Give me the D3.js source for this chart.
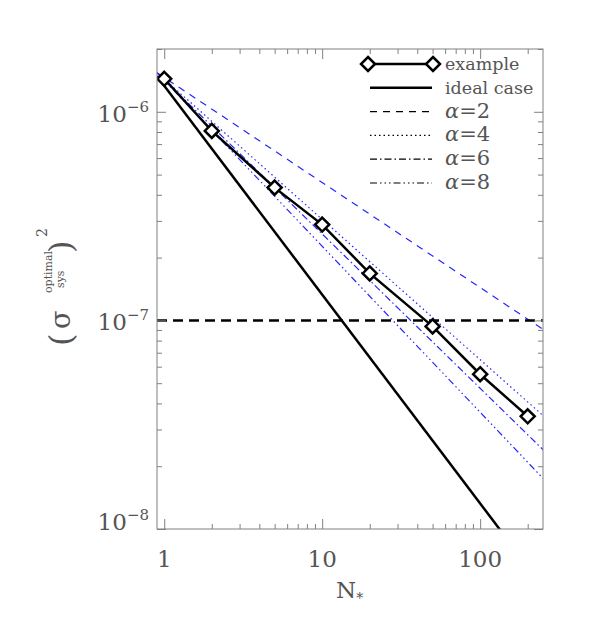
<!DOCTYPE html>
<meta charset="utf-8">
<style>
  body { margin: 0; background: #fff; }
  svg text { font-family: "DejaVu Serif", serif; fill: #555; }
</style>
<body>
<script src="https://d3js.org/d3.v7.min.js"></script>
<script>
// ---- data ----
var nStars = [1, 2, 5, 10, 20, 50, 100, 200];
var example = [1.44e-6, 8.1e-7, 4.33e-7, 2.88e-7, 1.68e-7, 9.36e-8, 5.52e-8, 3.47e-8];

var lineN = [0.9, 250];            // ends of the straight model lines
var ideal = [1.48e-6, 5.3e-9];
var alpha2 = [1.54e-6, 9.06e-8];
var alpha4 = [1.54e-6, 3.5e-8];
var alpha6 = [1.54e-6, 2.4e-8];
var alpha8 = [1.54e-6, 1.75e-8];
var threshold = 1e-7;

var xMajor = [1, 10, 100];
var xLabels = ["1", "10", "100"];
var yMajor = [1e-8, 1e-7, 1e-6];
var yExp = ["\u22128", "\u22127", "\u22126"];

var W = 591, H = 629;
var pL = 157, pR = 543, pT = 49, pB = 529;

var svg = d3.select("body").append("svg")
  .attr("width", W)
  .attr("height", H);

var x = d3.scaleLog().domain([0.9, 250]).range([pL, pR]);
var y = d3.scaleLog().domain([1e-8, 2e-6]).range([pB, pT]);

var xMinor = [], yMinor = [];
[1, 10, 100].forEach(function (d) {
  for (var k = 2; k <= 9; k++) if (d * k <= 250) xMinor.push(d * k);
});
[1e-8, 1e-7, 1e-6].forEach(function (d) {
  for (var k = 2; k <= 9; k++) if (d * k <= 2e-6) yMinor.push(d * k);
});

// clip for the data
svg.append("clipPath").attr("id", "clip")
  .append("rect")
  .attr("x", pL).attr("y", pT)
  .attr("width", pR - pL).attr("height", pB - pT);

var plot = svg.append("g").attr("clip-path", "url(#clip)");
var line = d3.line()
  .x(function (d) { return x(d[0]); })
  .y(function (d) { return y(d[1]); });

function pairs(ns, vs) { return ns.map(function (n, i) { return [n, vs[i]]; }); }

var blue = "#2626ff";
var styles = [
  { v: alpha2, dash: "7,6" },
  { v: alpha4, dash: "1.5,3" },
  { v: alpha6, dash: "7,3,1.5,3" },
  { v: alpha8, dash: "7,3,1.5,3,1.5,3,1.5,3" }
];
styles.forEach(function (s) {
  plot.append("path")
    .datum(pairs(lineN, s.v))
    .attr("d", line)
    .attr("fill", "none")
    .attr("stroke", blue)
    .attr("stroke-width", 1.2)
    .attr("stroke-dasharray", s.dash);
});

// threshold line
plot.append("path")
  .datum(pairs(lineN, [threshold, threshold]))
  .attr("d", line)
  .attr("fill", "none")
  .attr("stroke", "#000")
  .attr("stroke-width", 2.5)
  .attr("stroke-dasharray", "10,6");

// ideal case
plot.append("path")
  .datum(pairs(lineN, ideal))
  .attr("d", line)
  .attr("fill", "none")
  .attr("stroke", "#000")
  .attr("stroke-width", 2.5);

// example
plot.append("path")
  .datum(pairs(nStars, example))
  .attr("d", line)
  .attr("fill", "none")
  .attr("stroke", "#000")
  .attr("stroke-width", 2.5);

var diamond = "M0,-7L7,0L0,7L-7,0Z";
plot.selectAll(".pt")
  .data(pairs(nStars, example))
  .enter().append("path")
  .attr("class", "pt")
  .attr("d", diamond)
  .attr("transform", function (d) { return "translate(" + x(d[0]) + "," + y(d[1]) + ")"; })
  .attr("fill", "#fff")
  .attr("stroke", "#000")
  .attr("stroke-width", 2.5);

// axes: ticks pointing inward on all four sides
var axisCol = "#808080";
function ticks(axis, vals, size, tr) {
  var g = svg.append("g")
    .attr("transform", tr)
    .call(axis.tickValues(vals).tickSize(size).tickFormat(""));
  g.select(".domain").remove();
  g.selectAll("line").attr("stroke", axisCol);
}
ticks(d3.axisBottom(x), xMajor, -10, "translate(0," + pB + ")");
ticks(d3.axisBottom(x), xMinor, -5, "translate(0," + pB + ")");
ticks(d3.axisTop(x), xMajor, -10, "translate(0," + pT + ")");
ticks(d3.axisTop(x), xMinor, -5, "translate(0," + pT + ")");
ticks(d3.axisLeft(y), yMajor, -9, "translate(" + pL + ",0)");
ticks(d3.axisLeft(y), yMinor, -5, "translate(" + pL + ",0)");
ticks(d3.axisRight(y), yMajor, -9, "translate(" + pR + ",0)");
ticks(d3.axisRight(y), yMinor, -5, "translate(" + pR + ",0)");

svg.append("rect")
  .attr("x", pL).attr("y", pT)
  .attr("width", pR - pL).attr("height", pB - pT)
  .attr("fill", "none")
  .attr("stroke", axisCol)
  .attr("stroke-width", 1);

// tick labels
svg.selectAll(".xl")
  .data(xMajor)
  .enter().append("text")
  .attr("x", function (d) { return x(d); })
  .attr("y", 567)
  .attr("text-anchor", "middle")
  .style("font-size", "23px")
  .text(function (d, i) { return xLabels[i]; });

yMajor.forEach(function (d, i) {
  var t = svg.append("text")
    .attr("x", 149)
    .attr("y", Math.min(y(d) + 10, pB + 1))
    .attr("text-anchor", "end")
    .style("font-size", "23px");
  t.append("tspan").text("10");
  t.append("tspan").attr("dy", -10).style("font-size", "15px").text(yExp[i]);
});

// x title
var xt = svg.append("text")
  .attr("x", 336).attr("y", 598)
  .style("font-size", "23px");
xt.append("tspan").text("N");
xt.append("tspan").attr("dy", 5).style("font-size", "14px").text("*");

// y title
var yt = svg.append("g").attr("transform", "translate(70,289) rotate(-90)");
yt.append("text").attr("x", -57).attr("y", 2).style("font-size", "32px").text("(");
yt.append("text").attr("x", -40).attr("y", 0).style("font-size", "27px").text("\u03c3");
yt.append("text").attr("x", -4).attr("y", -18).style("font-size", "11px").text("optimal");
yt.append("text").attr("x", 1).attr("y", -6).style("font-size", "11px").text("sys");
yt.append("text").attr("x", 36).attr("y", 2).style("font-size", "32px").text(")");
yt.append("text").attr("x", 52).attr("y", -23).style("font-size", "14px").text("2");

// legend
var lg = svg.append("g");
var lx0 = 368, lx1 = 433, tx = 445;
var legendItems = [
  { label: "example", dash: null, marker: true },
  { label: "ideal case", dash: null },
  { label: "2", dash: "7,6", alpha: true },
  { label: "4", dash: "1.5,3", alpha: true },
  { label: "6", dash: "7,3,1.5,3", alpha: true },
  { label: "8", dash: "7,3,1.5,3,1.5,3,1.5,3", alpha: true }
];
legendItems.forEach(function (it, i) {
  var ly = 64 + i * 23.8;
  lg.append("line")
    .attr("x1", it.marker ? lx0 : lx0 + 2).attr("x2", it.marker ? lx1 : lx1 - 1)
    .attr("y1", ly).attr("y2", ly)
    .attr("stroke", "#000")
    .attr("stroke-width", it.alpha ? 1.2 : 2.5)
    .attr("stroke-dasharray", it.dash);
  if (it.marker) {
    [lx0, lx1].forEach(function (mx) {
      lg.append("path").attr("d", diamond)
        .attr("transform", "translate(" + mx + "," + ly + ")")
        .attr("fill", "#fff").attr("stroke", "#000").attr("stroke-width", 2.5);
    });
  }
  var t = lg.append("text").attr("x", tx).attr("y", ly + 6).style("font-size", "17.5px");
  if (it.alpha) {
    t.append("tspan").style("font-style", "italic").style("font-size", "21px").text("\u03b1");
    t.append("tspan").style("font-size", "21px").text("=" + it.label);
  } else {
    t.text(it.label);
  }
});
</script>
</body>
